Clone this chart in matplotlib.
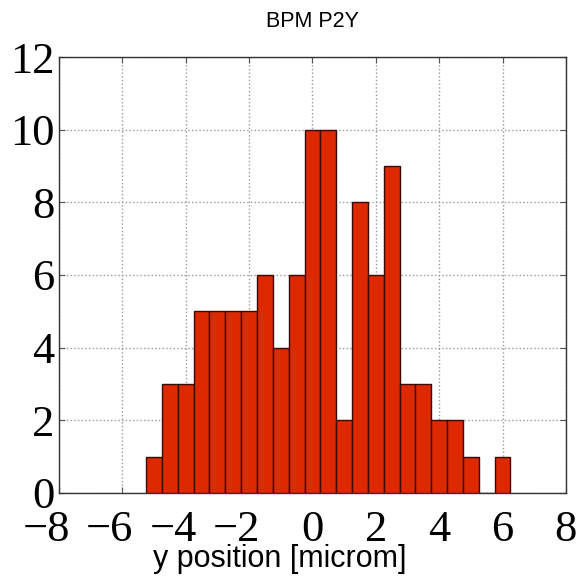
import matplotlib
matplotlib.use("Agg")
import matplotlib.pyplot as plt
import matplotlib.transforms as mtransforms
import numpy as np

bin_centers = [-5.0, -4.5, -4.0, -3.5, -3.0, -2.5, -2.0, -1.5, -1.0, -0.5, 0.0, 0.5,
               1.0, 1.5, 2.0, 2.5, 3.0, 3.5, 4.0, 4.5, 5.0, 5.5, 6.0]
counts = [1, 3, 3, 5, 5, 5, 5, 6, 4, 6, 10, 10, 2, 8, 6, 9, 3, 3, 2, 2, 1, 0, 1]
bin_width = 0.5
x_ticks = [-8, -6, -4, -2, 0, 2, 4, 6, 8]
y_ticks = [0, 2, 4, 6, 8, 10, 12]
title = "BPM P2Y"
xlabel = "y position [microm]"

fig = plt.figure(figsize=(5.81, 5.82), dpi=100)
ax = fig.add_axes([0.1015, 0.153, 0.8725, 0.749])

ax.bar(bin_centers, counts, width=bin_width, align='center',
       color='#dd2800', edgecolor='#3a0a00', linewidth=1.0, zorder=3)

ax.set_xlim(-8, 8)
ax.set_ylim(0, 12)
ax.set_xticks(x_ticks)
ax.set_yticks(y_ticks)
serif = {'family': 'Liberation Serif', 'size': 32}
ax.set_xticklabels([("\u2212" + str(abs(t))) if t < 0 else str(t) for t in x_ticks], fontdict=serif)
ax.set_yticklabels([str(t) for t in y_ticks], fontdict=serif)
ax.tick_params(direction='in', top=True, right=True, length=4, width=0.8, color='#555555')
ax.tick_params(axis='x', pad=12)
ax.tick_params(axis='y', pad=3)

# old-style placement: digits centred on the tick, minus sign hanging to the left
shift = mtransforms.ScaledTranslation(11 / 100, 0, fig.dpi_scale_trans)
for t, lab in zip(x_ticks, ax.get_xticklabels()):
    if t < 0:
        lab.set_horizontalalignment('right')
        lab.set_transform(lab.get_transform() + shift)

ax.grid(True, linestyle=':', color='#999999', linewidth=1.0, zorder=0)
for s in ax.spines.values():
    s.set_color('#333333')
    s.set_linewidth(1.0)

ax.set_title(title, fontsize=15.5, family='Liberation Sans', pad=21.6)
ax.set_xlabel(xlabel, fontsize=22, family='Liberation Sans')
ax.xaxis.set_label_coords(0.436, -0.117)

fig.savefig("out.png", dpi=100)
